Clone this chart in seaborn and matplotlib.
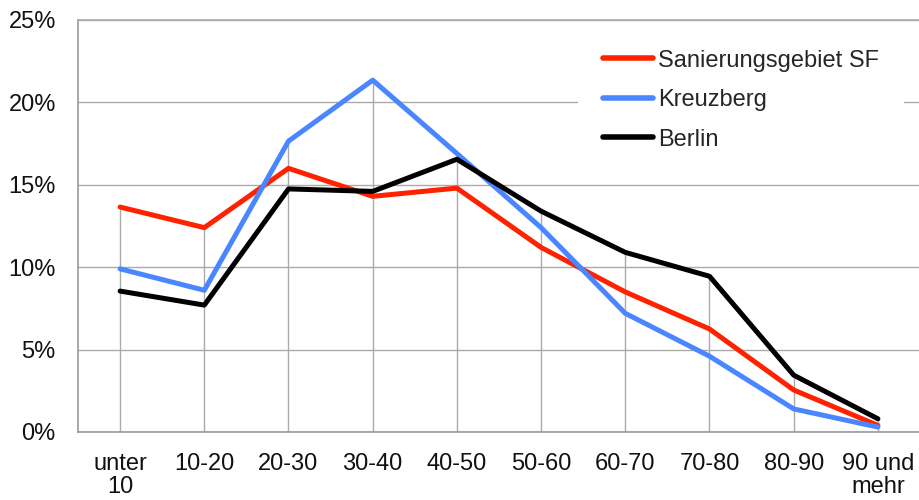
import matplotlib
matplotlib.use("Agg")
import matplotlib.pyplot as plt
import seaborn as sns
import pandas as pd
from matplotlib.ticker import FuncFormatter

# Age groups (Altersgruppen) and population shares in percent
age_groups = ["unter\n10", "10-20", "20-30", "30-40", "40-50",
              "50-60", "60-70", "70-80", "80-90", "90 und\nmehr"]
sanierungsgebiet_sf = [13.65, 12.4, 16.0, 14.3, 14.8, 11.2, 8.5, 6.25, 2.55, 0.4]
kreuzberg = [9.9, 8.6, 17.65, 21.35, 16.9, 12.4, 7.2, 4.6, 1.4, 0.3]
berlin = [8.55, 7.7, 14.75, 14.6, 16.55, 13.4, 10.9, 9.45, 3.45, 0.8]

series_names = ["Sanierungsgebiet SF", "Kreuzberg", "Berlin"]
series_values = [sanierungsgebiet_sf, kreuzberg, berlin]
colors = ["#ff2200", "#4a86ff", "#000000"]

y_ticks = [0, 5, 10, 15, 20, 25]

rows = []
for name, vals in zip(series_names, series_values):
    for i, (grp, v) in enumerate(zip(age_groups, vals)):
        rows.append({"pos": i, "Altersgruppe": grp, "Anteil": v, "Gebiet": name})
df = pd.DataFrame(rows)

sns.set_theme(style="white")
plt.rcParams["font.family"] = ["Liberation Sans", "DejaVu Sans"]

fig = plt.figure(figsize=(9.2, 5.0), dpi=100)
ax = fig.add_axes([78 / 920, 1 - 432 / 500, 842 / 920, 412 / 500])

# horizontal grid only; vertical drop lines from each group's highest value
ax.yaxis.grid(True, color="#aaaaaa", linewidth=1)
ax.xaxis.grid(False)
ax.set_axisbelow(True)
group_max = df.groupby("pos")["Anteil"].max()
ax.vlines(group_max.index, 0, group_max.values, color="#aaaaaa",
          linewidth=1, zorder=1)

sns.lineplot(data=df, x="pos", y="Anteil", hue="Gebiet", hue_order=series_names,
             palette=colors, linewidth=3.6, sort=False, ax=ax, zorder=3)

ax.set_xlim(-0.5, len(age_groups) - 0.5)
ax.set_ylim(0, 25)
ax.set_xticks(range(len(age_groups)))
ax.set_xticklabels(age_groups, fontsize=17, linespacing=1.05)
ax.set_yticks(y_ticks)
ax.yaxis.set_major_formatter(FuncFormatter(lambda v, _: f"{v:.0f}%"))
ax.tick_params(axis="y", labelsize=17, length=0, pad=16)
ax.tick_params(axis="x", length=0, pad=15)
for lbl in ax.get_yticklabels() + ax.get_xticklabels():
    lbl.set_color("#111111")

ax.set_xlabel("")
ax.set_ylabel("")

for side, sp in ax.spines.items():
    if side in ("left", "bottom"):
        sp.set_color("#999999")
        sp.set_linewidth(1.2)
    else:
        sp.set_visible(False)

leg = ax.legend(loc="upper left", bbox_to_anchor=(566 / 920, 1 - 13 / 500),
                bbox_transform=fig.transFigure, fontsize=17,
                handlelength=2.15, handletextpad=0.2, labelspacing=0.74,
                borderpad=1.05, frameon=True, fancybox=False)
leg.get_frame().set_facecolor("white")
leg.get_frame().set_edgecolor("none")
leg.get_frame().set_alpha(1)
for line in leg.get_lines():
    line.set_linewidth(4)
    line.set_solid_capstyle("round")
leg.set_zorder(5)

# top border line drawn over the legend box
ax.axhline(25, color="#aaaaaa", linewidth=1.2, zorder=6, clip_on=False)

fig.savefig("out.png", dpi=100)
